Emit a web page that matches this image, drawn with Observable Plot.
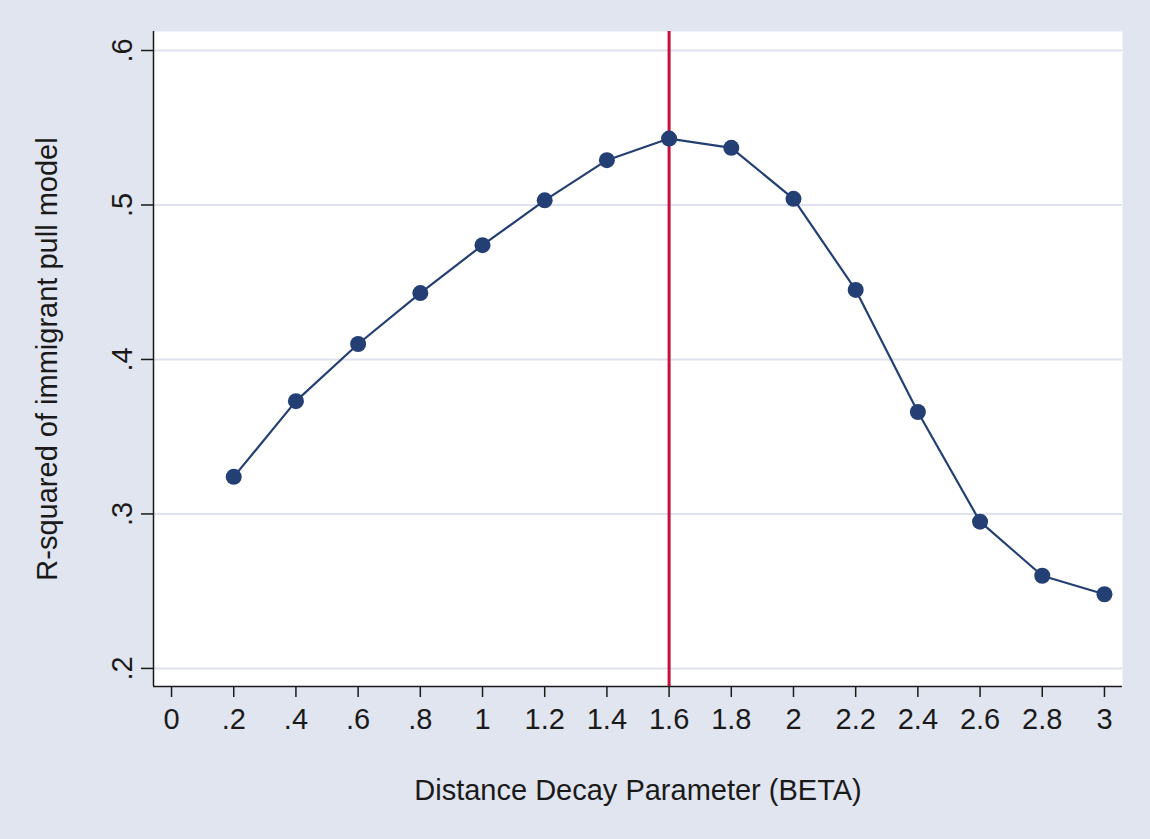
<!DOCTYPE html>
<html>
<head>
<meta charset="utf-8">
<script src="https://cdn.jsdelivr.net/npm/d3@7"></script>
<script src="https://cdn.jsdelivr.net/npm/@observablehq/plot@0.6"></script>
<style>
  html, body { margin: 0; padding: 0; background: #e1e5f0; }
  #chart svg { display: block; }
</style>
</head>
<body>
<div id="chart"></div>
<script>
const beta = [0.2, 0.4, 0.6, 0.8, 1.0, 1.2, 1.4, 1.6, 1.8, 2.0, 2.2, 2.4, 2.6, 2.8, 3.0];
const rsq  = [0.324, 0.373, 0.410, 0.443, 0.474, 0.503, 0.529, 0.543, 0.537, 0.504, 0.445, 0.366, 0.295, 0.260, 0.248];
const optimalBeta = [1.6];
const xTicks = [0, 0.2, 0.4, 0.6, 0.8, 1.0, 1.2, 1.4, 1.6, 1.8, 2.0, 2.2, 2.4, 2.6, 2.8, 3.0];
const yTicks = [0.2, 0.3, 0.4, 0.5, 0.6];
const xTitle = "Distance Decay Parameter (BETA)";
const yTitle = "R-squared of immigrant pull model";

const xDomain = [-0.058, 3.058];
const yDomain = [0.1883, 0.6123];

const data = beta.map((b, i) => ({beta: b, rsq: rsq[i]}));
const fmt = d => String(+d.toFixed(1)).replace(/^0\./, ".");

const navy = "#243f74";
const red = "#c8103c";
const ink = "#1a1a1a";
const font = "'Liberation Sans', Arial, Helvetica, sans-serif";
const fs = 29;

const plot = Plot.plot({
  width: 1150,
  height: 839,
  marginLeft: 153,
  marginRight: 28,
  marginTop: 31,
  marginBottom: 153,
  style: {background: "#e1e5f0", fontFamily: font, fontSize: fs + "px", color: ink},
  x: {domain: xDomain},
  y: {domain: yDomain},
  marks: [
    Plot.frame({fill: "white", stroke: null}),
    Plot.gridY(yTicks, {stroke: "#dde2ee", strokeOpacity: 1, strokeWidth: 2}),
    Plot.ruleX([xDomain[0]], {stroke: ink, strokeWidth: 1.5}),
    Plot.ruleY([yDomain[0]], {stroke: ink, strokeWidth: 1.5}),
    Plot.axisX({ticks: xTicks, tickFormat: fmt, tickSize: 11, tickPadding: 11, stroke: ink, strokeWidth: 1.5, label: null, fontSize: fs}),
    Plot.axisY({ticks: yTicks, tickFormat: fmt, tickSize: 12, tickPadding: 10, tickRotate: -90, stroke: ink, strokeWidth: 1.5, label: null, fontSize: fs}),
    Plot.text([xTitle], {frameAnchor: "bottom", dy: 104, lineAnchor: "middle", textAnchor: "middle", fontSize: fs, fill: ink}),
    Plot.text([yTitle], {frameAnchor: "left", dx: -106, rotate: -90, lineAnchor: "middle", textAnchor: "middle", fontSize: fs, fill: ink}),
    Plot.ruleX(optimalBeta, {stroke: red, strokeWidth: 3}),
    Plot.line(data, {x: "beta", y: "rsq", stroke: navy, strokeWidth: 2.2}),
    Plot.dot(data, {x: "beta", y: "rsq", r: 8, fill: navy, stroke: null})
  ]
});
document.getElementById("chart").appendChild(plot);
</script>
</body>
</html>
